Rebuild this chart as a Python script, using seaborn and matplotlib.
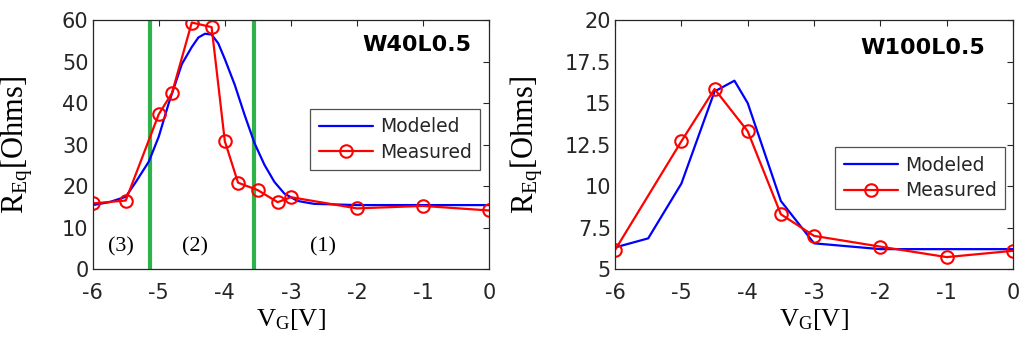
import numpy as np
import pandas as pd
import matplotlib
matplotlib.use('Agg')
import matplotlib.pyplot as plt
import seaborn as sns

# Left panel: W40L0.5
vg_meas_40 = [-6, -5.5, -5, -4.8, -4.5, -4.2, -4.0, -3.8, -3.5, -3.2, -3.0, -2, -1, 0]
r_meas_40 = [15.9, 16.6, 37.4, 42.5, 59.5, 58.4, 30.9, 20.9, 19.1, 16.2, 17.4, 14.7, 15.3, 14.2]
vg_model_40 = [-6, -5.75, -5.5, -5.35, -5.15, -5.0, -4.85, -4.65, -4.5, -4.4, -4.3, -4.2,
               -4.1, -4.0, -3.85, -3.7, -3.55, -3.4, -3.25, -3.1, -2.9, -2.65, -2, -1, 0]
r_model_40 = [15.5, 16.2, 17.5, 21.0, 26.0, 32.0, 40.0, 49.5, 53.6, 55.9, 56.8, 56.6,
              54.5, 50.7, 44.5, 37.2, 30.4, 25.2, 21.1, 18.3, 16.5, 15.8, 15.5, 15.5, 15.5]
region_bounds = [-5.13, -3.56]
region_labels = ['(3)', '(2)', '(1)']
region_x = [-5.58, -4.45, -2.51]

# Right panel: W100L0.5
vg_meas_100 = [-6, -5, -4.5, -4, -3.5, -3, -2, -1, 0]
r_meas_100 = [6.15, 12.7, 15.85, 13.3, 8.3, 7.0, 6.35, 5.72, 6.1]
vg_model_100 = [-6, -5.5, -5, -4.5, -4.2, -4, -3.5, -3, -2, -1, 0]
r_model_100 = [6.3, 6.85, 10.15, 15.7, 16.35, 15.0, 9.1, 6.55, 6.2, 6.2, 6.2]

sns.set_theme(style='white')
plt.rcParams['font.family'] = ['DejaVu Sans']
plt.rcParams['mathtext.fontset'] = 'custom'
plt.rcParams['mathtext.rm'] = 'Liberation Serif'
plt.rcParams['mathtext.it'] = 'Liberation Serif'

dark = '#262626'
green = '#2db34a'

fig = plt.figure(figsize=(10.21, 3.41), dpi=100)
ax1 = fig.add_axes([0.0908, 0.210, 0.3882, 0.730])
ax2 = fig.add_axes([0.6024, 0.211, 0.3898, 0.730])


def draw(ax, vm, rm, vmod, rmod):
    sns.lineplot(x=vmod, y=rmod, ax=ax, color='blue', lw=1.6, label='Modeled')
    sns.lineplot(x=vm, y=rm, ax=ax, color='red', lw=1.6, marker='o', markersize=9,
                 markerfacecolor='none', markeredgecolor='red', markeredgewidth=1.5,
                 label='Measured')


draw(ax1, vg_meas_40, r_meas_40, vg_model_40, r_model_40)
draw(ax2, vg_meas_100, r_meas_100, vg_model_100, r_model_100)

for xb in region_bounds:
    ax1.axvline(xb, color=green, lw=3, zorder=1)
for lab, xr in zip(region_labels, region_x):
    ax1.text(xr, 5.4, lab, ha='center', va='center', fontsize=16,
             family='Liberation Serif', color='black')

ax1.set_ylim(0, 60)
ax1.set_yticks([0, 10, 20, 30, 40, 50, 60])
ax2.set_ylim(5, 20)
ax2.set_yticks([5, 7.5, 10, 12.5, 15, 17.5, 20])
ax2.set_yticklabels(['5', '7.5', '10', '12.5', '15', '17.5', '20'])

titles = ['W40L0.5', 'W100L0.5']
title_pos = [(0.956, 0.90), (0.93, 0.89)]
legend_pos = [(0.977, 0.645), (0.980, 0.49)]
for ax, t, tp, lp in zip([ax1, ax2], titles, title_pos, legend_pos):
    ax.set_xlim(-6, 0)
    ax.set_xticks([-6, -5, -4, -3, -2, -1, 0])
    ax.set_xticklabels(['-6', '-5', '-4', '-3', '-2', '-1', '0'])
    ax.tick_params(direction='in', length=4, width=0.8, top=True, right=True,
                   labelsize=15, colors=dark, labelcolor=dark)
    ax.tick_params(axis='x', pad=10)
    ax.tick_params(axis='y', pad=3)
    for s in ax.spines.values():
        s.set_color(dark)
        s.set_linewidth(0.9)
    ax.text(tp[0], tp[1], t, transform=ax.transAxes, ha='right', va='center',
            fontsize=16, fontweight='bold', color='black')
    ax.set_xlabel(r'V$_\mathrm{G}$[V]', fontsize=19, family='Liberation Serif',
                  color='black', labelpad=3)
    ax.set_ylabel(r'R$_\mathrm{Eq}$[Ohms]', fontsize=22, family='Liberation Serif',
                  color='black')
    leg = ax.legend(loc='upper right', bbox_to_anchor=lp, fontsize=13.5, frameon=True,
                    fancybox=False, edgecolor=dark, handlelength=2.9,
                    handletextpad=0.35, borderpad=0.45, labelspacing=0.35,
                    borderaxespad=0)
    leg.get_frame().set_linewidth(0.9)
    for txt in leg.get_texts():
        txt.set_color(dark)

ax1.yaxis.set_label_coords(-0.145, 0.5)
ax2.yaxis.set_label_coords(-0.175, 0.5)

fig.savefig('out.png', dpi=100)
